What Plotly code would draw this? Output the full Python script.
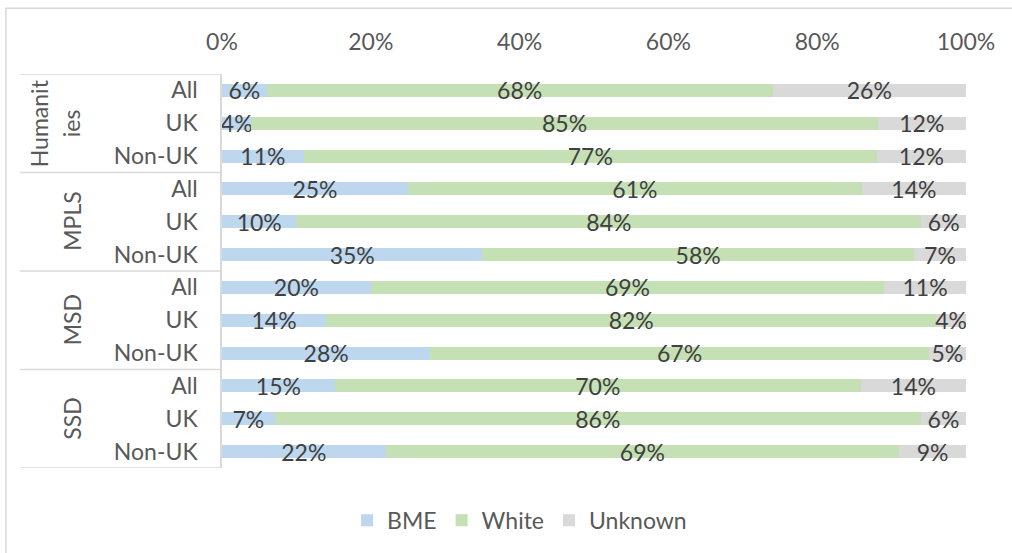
import plotly.graph_objects as go

groups = ["Humanities", "MPLS", "MSD", "SSD"]
group_lines = [["Humanit", "ies"], ["MPLS"], ["MSD"], ["SSD"]]
subcats = ["All", "UK", "Non-UK"]
bme = [6, 4, 11, 25, 10, 35, 20, 14, 28, 15, 7, 22]
white = [68, 85, 77, 61, 84, 58, 69, 82, 67, 70, 86, 69]
unknown = [26, 12, 12, 14, 6, 7, 11, 4, 5, 14, 6, 9]
series = [("BME", bme, "#BDD7EE"), ("White", white, "#C5E0B4"), ("Unknown", unknown, "#D9D9D9")]
xticks = [0, 20, 40, 60, 80, 100]

FONT = "Lato"
rows = list(range(len(bme)))
ylabels = [subcats[i % 3] for i in rows]

fig = go.Figure()
for name, vals, col in series:
    fig.add_trace(go.Bar(
        y=rows, x=vals, name=name, orientation="h",
        marker=dict(color=col, line=dict(width=0)),
        text=[f"{v}%" for v in vals], textposition="inside",
        insidetextanchor="middle", constraintext="none",
        textfont=dict(family=FONT, size=23, color="#404040"),
        hoverinfo="skip",
    ))

L, R, T, B = 222, 46, 74, 84
W, H = 1012, 553
pw = W - L - R
ph = H - T - B

def px2paper(px):
    return (px - L) / pw

def py2paper(py):
    return 1 - (py - T) / ph

shapes = []
# outer chart border
shapes.append(dict(type="rect", xref="paper", yref="paper",
                   x0=px2paper(6), x1=px2paper(1030),
                   y0=py2paper(570), y1=py2paper(8),
                   line=dict(color="#D9D9D9", width=1.5), layer="below"))
# group divider lines
for yv in [-0.5, 2.5, 5.5, 8.5, 11.5]:
    shapes.append(dict(type="line", xref="paper", yref="y",
                       x0=px2paper(20), x1=0, y0=yv, y1=yv,
                       line=dict(color="#D9D9D9", width=1.5)))

annotations = []
for gi, lines in enumerate(group_lines):
    if len(lines) == 1:
        xs = [72]
    else:
        xs = [39, 71]
    for ln, xp in zip(lines, xs):
        annotations.append(dict(
            xref="paper", yref="y", x=px2paper(xp), y=gi * 3 + 1,
            text=ln, textangle=-90, showarrow=False,
            font=dict(family=FONT, size=23, color="#595959"),
            xanchor="center", yanchor="middle"))

fig.update_layout(
    width=W, height=H,
    margin=dict(l=L, r=R, t=T, b=B),
    paper_bgcolor="white", plot_bgcolor="white",
    barmode="stack", barnorm="percent", bargap=0.6,
    uniformtext=dict(mode="show", minsize=23),
    font=dict(family=FONT, size=23, color="#595959"),
    xaxis=dict(side="top", range=[0, 100], tickvals=xticks,
               ticktext=[f"{t}%" for t in xticks], showgrid=False,
               zeroline=False, showline=False, ticks="",
               ticklabelstandoff=18,
               tickfont=dict(family=FONT, size=23, color="#595959")),
    yaxis=dict(range=[11.5, -0.5], tickvals=rows, ticktext=ylabels,
               showgrid=False, zeroline=False, showline=True,
               linecolor="#D9D9D9", linewidth=1.5, ticks="",
               ticklabelstandoff=18,
               tickfont=dict(family=FONT, size=23, color="#595959")),
    legend=dict(orientation="h", x=0.40, xanchor="center", y=-0.13,
                yanchor="middle", font=dict(family=FONT, size=23, color="#595959"),
                traceorder="normal", bgcolor="rgba(0,0,0,0)"),
    shapes=shapes, annotations=annotations, showlegend=True,
)

fig.write_html("out.html")
